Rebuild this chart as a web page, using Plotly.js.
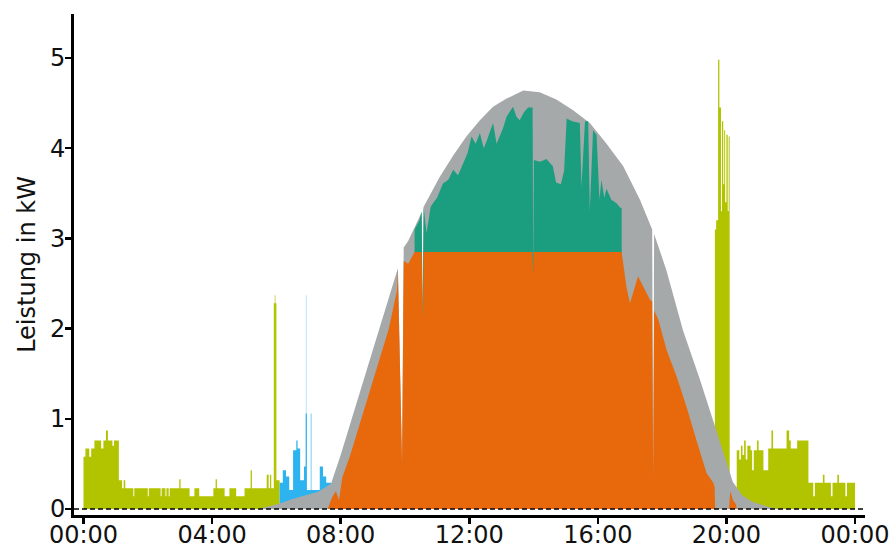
<!DOCTYPE html>
<html>
<head>
<meta charset="utf-8">
<script src="https://cdn.plot.ly/plotly-3.0.1.min.js"></script>
<style>
  html, body { margin: 0; padding: 0; background: #ffffff; }
  #chart { width: 893px; height: 550px; }
</style>
</head>
<body>
<div id="chart"></div>
<script>
// ---- axis ticks ----
const tickHours  = [0, 4, 8, 12, 16, 20, 24];
const tickLabels = ["00:00", "04:00", "08:00", "12:00", "16:00", "20:00", "00:00"];
const yTicks     = [0, 1, 2, 3, 4, 5];

// ---- grid import (yellow-green), hours / kW, stepped ----
const gridTime = [0.00, 0.06, 0.18, 0.24, 0.34, 0.55, 0.62, 0.70, 0.76, 0.90, 0.95, 1.10, 1.20, 1.25, 1.30, 1.55, 1.58,
  2.00, 2.03, 2.40, 2.43, 2.55, 2.58, 2.65, 2.68, 2.98, 3.02, 3.30, 3.45, 3.60, 4.04, 4.11, 4.15, 4.39, 4.54, 4.75,
  5.01, 5.20, 5.24, 5.70, 5.76, 5.80, 5.84, 5.92, 5.95, 5.97, 6.00, 6.10,
  19.64, 19.68, 19.74, 19.78, 19.83, 19.86, 19.90, 19.93, 19.96, 20.00, 20.04, 20.07, 20.10,
  20.32, 20.40, 20.45, 20.50, 20.55, 20.60, 20.65, 20.75, 20.80, 20.85, 20.95, 21.00, 21.15, 21.30, 21.40, 21.45,
  21.87, 21.95, 22.00, 22.20, 22.25, 22.55, 22.70, 22.75, 23.00, 23.05, 23.25, 23.30, 23.45, 23.50, 23.70, 23.75, 24.00];
const gridKW = [0.58, 0.67, 0.58, 0.67, 0.76, 0.67, 0.76, 0.87, 0.76, 0.70, 0.76, 0.32, 0.23, 0.32, 0.23, 0.14, 0.23,
  0.14, 0.23, 0.14, 0.23, 0.14, 0.23, 0.14, 0.23, 0.33, 0.23, 0.14, 0.23, 0.14, 0.23, 0.33, 0.23, 0.14, 0.23, 0.14,
  0.23, 0.43, 0.23, 0.38, 0.23, 0.38, 0.23, 2.28, 2.37, 2.28, 0.32, 0,
  3.10, 3.20, 4.98, 4.45, 3.30, 4.30, 3.60, 4.20, 3.40, 4.15, 3.30, 4.13, 0,
  0.65, 0.55, 0.70, 0.60, 0.76, 0.55, 0.70, 0.65, 0.43, 0.65, 0.76, 0.65, 0.43, 0.67, 0.87, 0.67,
  0.87, 0.76, 0.67, 0.76, 0.76, 0.29, 0.14, 0.29, 0.38, 0.29, 0.14, 0.29, 0.38, 0.29, 0.14, 0.29, 0];

// ---- battery / other (light blue), stepped ----
const blueTime = [6.10, 6.20, 6.30, 6.40, 6.52, 6.62, 6.66, 6.74, 6.86, 6.91, 6.92, 6.93, 6.95, 7.07, 7.09, 7.35, 7.45, 7.55, 7.71];
const blueKW   = [0.29, 0.43, 0.36, 0.21, 0.65, 0.76, 0.67, 0.32, 0.47, 1.06, 2.37, 1.06, 0.21, 1.06, 0.21, 0.47, 0.36, 0.29, 0];

// ---- PV potential (grey) ----
const grayTime = [5.45, 5.8, 6.1, 6.5, 6.9, 7.3, 7.7, 8.0, 8.5, 9.0, 9.5, 9.78, 9.91, 9.96, 10.1, 10.36, 10.52, 10.55, 10.58, 10.67,
  11.08, 11.5, 11.91, 12.33, 12.74, 13.16, 13.68, 14.19, 14.71, 15.23, 15.75, 16.27, 16.79, 17.31, 17.69, 17.72, 17.75,
  18.13, 18.65, 19.18, 19.7, 20.2, 20.5, 20.8, 21.35, 21.6];
const grayKW = [0, 0.03, 0.06, 0.11, 0.15, 0.19, 0.28, 0.6, 1.18, 1.76, 2.33, 2.67, 0.5, 2.9, 2.97, 3.17, 3.29, 2.1, 3.35, 3.41,
  3.68, 3.92, 4.13, 4.31, 4.46, 4.55, 4.64, 4.62, 4.54, 4.42, 4.28, 4.05, 3.80, 3.43, 3.10, 0.32, 3.05,
  2.65, 1.98, 1.43, 0.84, 0.30, 0.15, 0.08, 0.02, 0];

// ---- feed-in above limit (teal) ----
const tealTime = [10.28, 10.30, 10.45, 10.52, 10.55, 10.58, 10.67, 10.80, 10.87, 11.00, 11.18, 11.35, 11.50, 11.65, 11.81, 11.95,
  12.07, 12.20, 12.33, 12.45, 12.53, 12.65, 12.74, 12.85, 12.95, 13.05, 13.16, 13.26, 13.36, 13.47, 13.57, 13.70, 13.83,
  13.97, 13.99, 14.01, 14.20, 14.40, 14.60, 14.70, 14.85, 14.95, 15.03, 15.20, 15.44, 15.49, 15.60, 15.70, 15.75, 15.85,
  15.96, 16.05, 16.11, 16.20, 16.27, 16.42, 16.58, 16.70, 16.74, 16.76];
const tealKW = [0, 3.10, 3.20, 3.30, 2.10, 3.35, 3.06, 3.35, 3.39, 3.45, 3.61, 3.65, 3.76, 3.70, 3.83, 3.95,
  4.13, 4.05, 4.17, 4.00, 4.07, 4.20, 4.28, 4.05, 4.13, 4.22, 4.35, 4.40, 4.46, 4.35, 4.31, 4.40, 4.45,
  4.45, 2.60, 3.87, 3.85, 3.88, 3.80, 3.62, 3.60, 3.75, 4.33, 4.30, 4.28, 3.57, 4.30, 4.30, 3.30, 4.20,
  4.15, 3.43, 3.65, 3.45, 3.55, 3.43, 3.39, 3.34, 3.34, 0];

// ---- PV output (orange) ----
const orangeTime = [7.60, 7.72, 7.85, 7.95, 8.05, 8.30, 8.60, 9.00, 9.25, 9.50, 9.75, 9.78, 9.91, 9.96, 10.10, 10.30,
  10.52, 10.55, 10.58, 13.97, 13.99, 14.01, 16.74, 16.89, 17.00, 17.25, 17.62, 17.69, 17.72, 17.75, 17.88, 18.14,
  18.45, 18.76, 19.07, 19.38, 19.59, 19.63, 19.65, 20.08, 20.12, 20.20, 20.30, 20.32];
const orangeKW = [0, 0.12, 0.20, 0.10, 0.35, 0.60, 0.95, 1.42, 1.70, 2.00, 2.42, 2.65, 0.50, 2.75, 2.72, 2.85,
  2.85, 2.10, 2.85, 2.85, 2.60, 2.85, 2.85, 2.46, 2.28, 2.58, 2.32, 2.30, 0.32, 2.20, 2.10, 1.76,
  1.47, 1.13, 0.76, 0.40, 0.29, 0.25, 0, 0, 0.20, 0.10, 0.05, 0];

function area(x, y, color, shape) {
  return {
    type: 'scatter', mode: 'lines', x: x, y: y,
    fill: 'tozeroy', fillcolor: color,
    line: { width: 0, color: color, shape: shape },
    hoverinfo: 'skip', showlegend: false
  };
}

const traces = [
  area(gridTime, gridKW, '#b2c300', 'hv'),
  area(blueTime, blueKW, '#2db3ef', 'hv'),
  area(grayTime, grayKW, '#a6a9a9', 'linear'),
  area(tealTime, tealKW, '#1b9e7f', 'linear'),
  area(orangeTime, orangeKW, '#e8690c', 'linear')
];

const layout = {
  width: 893, height: 550,
  margin: { l: 74, r: 28, t: 14, b: 35, pad: 0 },
  paper_bgcolor: '#ffffff', plot_bgcolor: '#ffffff',
  showlegend: false,
  font: { family: 'DejaVu Sans, sans-serif', color: '#111111' },
  xaxis: {
    range: [-0.295, 24.31],
    tickmode: 'array', tickvals: tickHours, ticktext: tickLabels,
    showline: true, linecolor: '#000000', linewidth: 3,
    ticks: 'outside', ticklen: 6, tickwidth: 2.5, tickcolor: '#000000',
    ticklabelstandoff: -10,
    showgrid: false, zeroline: false,
    tickfont: { size: 24, color: '#111111' }
  },
  yaxis: {
    range: [-0.0665, 5.488],
    tickmode: 'array', tickvals: yTicks,
    showline: true, linecolor: '#000000', linewidth: 3,
    ticks: 'outside', ticklen: 6, tickwidth: 2.5, tickcolor: '#000000',
    ticklabelstandoff: -5,
    showgrid: false, zeroline: false,
    tickfont: { size: 24, color: '#111111' },
    title: { text: 'Leistung in kW', font: { size: 24, color: '#111111' }, standoff: 8 }
  },
  shapes: [{
    type: 'line', xref: 'paper', x0: 0, x1: 1, yref: 'y', y0: 0, y1: 0,
    line: { color: '#000000', width: 1.3, dash: '5px,3px' }, layer: 'above'
  }]
};

Plotly.newPlot('chart', traces, layout, { displayModeBar: false, staticPlot: true });
</script>
</body>
</html>
